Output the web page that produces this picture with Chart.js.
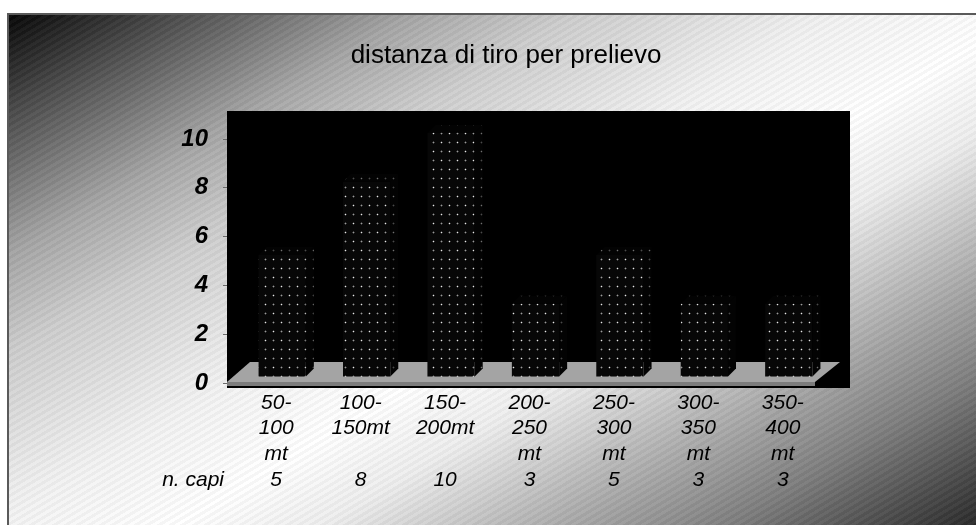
<!DOCTYPE html>
<html>
<head>
<meta charset="utf-8">
<script src="https://cdn.jsdelivr.net/npm/chart.js@4.4.1/dist/chart.umd.min.js"></script>
<style>
  html, body { margin: 0; padding: 0; background: #fff; }
  body { width: 976px; height: 525px; position: relative; overflow: hidden; }
  #bg {
    position: absolute; left: 7px; top: 13px; width: 969px; height: 512px;
    box-sizing: border-box;
    border-top: 2px solid #5a5a5a; border-left: 2px solid #5a5a5a;
    background:
      repeating-linear-gradient(149deg, rgba(255,255,255,0.035) 0 3px, rgba(0,0,0,0.035) 3px 6px),
      linear-gradient(149deg, #060606 0%, #4a4a4a 9%, #a5a5a5 22%, #cdcdcd 31%, #f3f3f3 46%, #ffffff 56%, #eeeeee 64%, #b0b0b0 76%, #808080 86%, #2a2a2a 100%);
  }
  #chart { position: absolute; left: 0; top: 0; }
</style>
</head>
<body>
<div id="bg"></div>
<canvas id="chart" width="976" height="525"></canvas>
<script>
// data
const categories = [
  ['50-', '100', 'mt'],
  ['100-', '150mt'],
  ['150-', '200mt'],
  ['200-', '250', 'mt'],
  ['250-', '300', 'mt'],
  ['300-', '350', 'mt'],
  ['350-', '400', 'mt']
];
const capi = [5, 8, 10, 3, 5, 3, 3];
const tableLabel = 'n. capi';
const titleText = 'distanza di tiro per prelievo';
const yMin = 0, yMax = 10, yStep = 2;

const FONT = "'Liberation Sans', Arial, sans-serif";
const DEPTH = 6; // bars sit a bit back on the 3d floor

// dotted fill used by the bars
function makePattern(bright, dim, glow, bg) {
  const c = document.createElement('canvas');
  c.width = 16; c.height = 18;
  const g = c.getContext('2d');
  g.fillStyle = bg; g.fillRect(0, 0, 16, 18);
  const dot = (px, py, col) => {
    g.fillStyle = glow;
    g.fillRect(px - 1, py, 3, 1);
    g.fillRect(px, py - 1, 1, 3);
    g.fillStyle = col;
    g.fillRect(px, py, 1, 1);
  };
  dot(3, 4, bright); dot(11, 13, bright);
  dot(11, 4, dim); dot(3, 13, dim);
  return g.createPattern(c, 'repeat');
}

const ctx = document.getElementById('chart').getContext('2d');
const frontPattern = makePattern('#e8e8e8', '#9a9a9a', '#3c3c3c', '#070707');
const sidePattern = makePattern('#707070', '#4a4a4a', '#1c1c1c', '#030303');

const wallPlugin = {
  id: 'wall',
  beforeDatasetsDraw(chart) {
    const { ctx, chartArea: a } = chart;
    ctx.save();
    // black back wall
    ctx.fillStyle = '#000';
    ctx.fillRect(a.left - 7, a.top - 28, a.right - a.left + 32, a.bottom - a.top + 33);
    // grey floor
    ctx.fillStyle = '#a4a4a4';
    ctx.beginPath();
    ctx.moveTo(a.left - 7, a.bottom - 1);
    ctx.lineTo(a.left + 16, a.bottom - 21);
    ctx.lineTo(a.right + 15, a.bottom - 21);
    ctx.lineTo(a.right - 10, a.bottom - 1);
    ctx.closePath();
    ctx.fill();
    ctx.fillStyle = '#7c7c7c';
    ctx.fillRect(a.left - 7, a.bottom - 1, a.right - a.left - 3, 4);
    ctx.restore();
    ctx.save();
    ctx.translate(DEPTH, -DEPTH);
  },
  afterDatasetsDraw(chart) {
    const { ctx } = chart;
    const meta = chart.getDatasetMeta(0);
    const d = 8;
    meta.data.forEach(el => {
      const { x, y, width, base } = el.getProps(['x', 'y', 'width', 'base'], true);
      const l = x - width / 2, r = x + width / 2;
      ctx.fillStyle = sidePattern;
      ctx.beginPath();
      ctx.moveTo(r, y); ctx.lineTo(r + d, y - d); ctx.lineTo(r + d, base - d); ctx.lineTo(r, base);
      ctx.closePath(); ctx.fill();
      ctx.beginPath();
      ctx.moveTo(l, y); ctx.lineTo(l + d, y - d); ctx.lineTo(r + d, y - d); ctx.lineTo(r, y);
      ctx.closePath(); ctx.fill();
    });
    ctx.restore();
  },
  afterDraw(chart) {
    const { ctx, chartArea: a } = chart;
    const x2 = chart.scales.x2;
    ctx.save();
    ctx.fillStyle = '#000';
    ctx.textBaseline = 'middle';
    // table row header
    ctx.font = 'italic 21px ' + FONT;
    ctx.textAlign = 'right';
    ctx.fillText(tableLabel, a.left - 10, x2.top + 12.75);
    // chart title
    ctx.font = '26px ' + FONT;
    ctx.textAlign = 'center';
    ctx.textBaseline = 'alphabetic';
    ctx.fillText(titleText, 506, 63);
    ctx.restore();
  }
};

new Chart(ctx, {
  type: 'bar',
  data: {
    labels: categories,
    datasets: [{
      data: capi,
      backgroundColor: frontPattern,
      borderWidth: 0,
      barPercentage: 0.56,
      categoryPercentage: 1,
      clip: false
    }]
  },
  options: {
    responsive: false,
    animation: false,
    layout: { padding: { left: 150, right: 151, top: 139, bottom: 28 } },
    plugins: {
      legend: { display: false },
      tooltip: { enabled: false },
      title: { display: false }
    },
    scales: {
      x: {
        position: 'bottom',
        weight: 0,
        grid: { display: false, drawTicks: false },
        border: { display: false },
        ticks: {
          color: '#000',
          autoSkip: false,
          maxRotation: 0,
          padding: 7,
          font: { family: FONT, size: 21, style: 'italic', lineHeight: '25.5px' }
        },
        afterFit(s) { s.height = 84; }
      },
      x2: {
        type: 'category',
        position: 'bottom',
        weight: 1,
        labels: capi.map(String),
        grid: { display: false, drawTicks: false },
        border: { display: false },
        ticks: {
          color: '#000',
          autoSkip: false,
          maxRotation: 0,
          padding: 0,
          font: { family: FONT, size: 21, style: 'italic', lineHeight: '25.5px' }
        },
        afterFit(s) { s.height = 30; }
      },
      y: {
        min: yMin,
        max: yMax,
        grid: { drawOnChartArea: false, drawTicks: true, tickLength: 11, color: '#6a6a6a' },
        border: { display: false },
        ticks: {
          stepSize: yStep,
          color: '#000',
          padding: 15,
          font: { family: FONT, size: 24, style: 'italic', weight: 'bold' }
        },
        afterFit(s) { s.width = 84; }
      }
    }
  },
  plugins: [wallPlugin]
});
</script>
</body>
</html>
